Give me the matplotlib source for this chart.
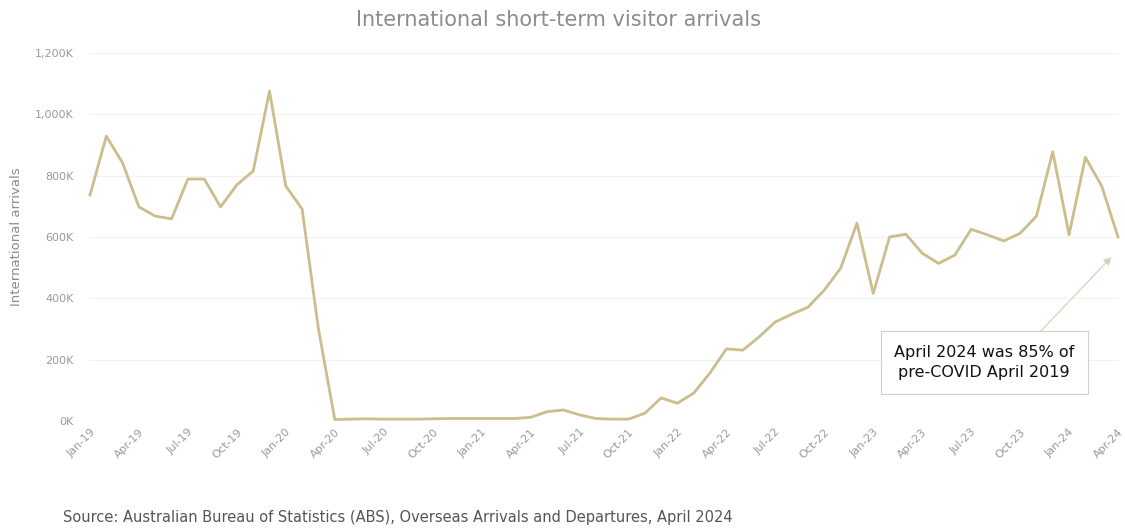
import matplotlib
matplotlib.use("Agg")
import matplotlib.pyplot as plt
import pandas as pd

# Monthly short-term visitor arrivals, thousands
MONTHS = pd.date_range("2019-01-01", "2024-04-01", freq="MS")
ARRIVALS = [
    737, 929, 841, 698, 668, 659, 789, 789, 698, 770, 815, 1076,   # 2019
    766, 691, 300, 5, 6, 7, 6, 6, 6, 7, 8, 8,                      # 2020
    8, 8, 8, 12, 30, 36, 20, 8, 6, 6, 25, 75,                      # 2021
    58, 91, 157, 235, 231, 274, 323, 348, 371, 427, 498, 645,      # 2022
    416, 600, 609, 547, 514, 541, 625, 607, 587, 612, 668, 878,    # 2023
    607, 860, 766, 600,                                            # 2024
]
TICK_LABELS = [m.strftime("%b-%y") for m in MONTHS[::3]]

TITLE = "International short-term visitor arrivals"
NOTE = "April 2024 was 85% of\npre-COVID April 2019"
SOURCE = "Source: Australian Bureau of Statistics (ABS), Overseas Arrivals and Departures, April 2024"

LINE_COLOR = "#cbbd8c"
GREY = "#9a9a9a"


def plot_arrivals():
    fig = plt.figure(figsize=(11.25, 5.31), dpi=100)
    ax = fig.add_axes([0.08, 0.2072, 0.9138, 0.693])

    x = list(range(len(ARRIVALS)))
    ax.plot(x, ARRIVALS, color=LINE_COLOR, lw=2.0, clip_on=False, zorder=3)

    ax.set_xlim(0, len(ARRIVALS) - 1)
    ax.set_ylim(0, 1200)
    ax.set_yticks(range(0, 1201, 200))
    ax.set_yticklabels([f"{v:,}K" for v in range(0, 1201, 200)])
    ax.set_xticks(x[::3])
    ax.set_xticklabels(TICK_LABELS, rotation=45, ha="right", rotation_mode="anchor")

    ax.tick_params(axis="both", length=0, colors=GREY, labelsize=8)
    ax.tick_params(axis="y", pad=12)
    ax.tick_params(axis="x", pad=4)
    ax.grid(axis="y", color="#f2f2f2", lw=0.8)
    for s in ax.spines.values():
        s.set_visible(False)

    ax.set_ylabel("International arrivals", color="#8a8a8a", fontsize=9.5, labelpad=8)
    fig.text(0.496, 0.962, TITLE, ha="center", va="center", fontsize=15, color="#8c8c8c")

    # annotation box with arrow to the last point
    ax.annotate(
        NOTE, xy=(62.6, 535), xytext=(54.8, 190),
        ha="center", va="center", fontsize=11.5, color="#111111", linespacing=1.45,
        bbox=dict(boxstyle="square,pad=0.85", fc="white", ec="#cfcfcf", lw=0.8),
        arrowprops=dict(arrowstyle="-|>", color="#d8d2bc", lw=0.9,
                        shrinkA=0, shrinkB=0, relpos=(0.74, 1.0)),
        annotation_clip=False, zorder=4,
    )

    fig.text(0.056, 0.026, SOURCE, ha="left", va="center", fontsize=10.5, color="#555555")

    fig.savefig("out.png", dpi=100)


def main():
    plot_arrivals()


if __name__ == "__main__":
    main()
